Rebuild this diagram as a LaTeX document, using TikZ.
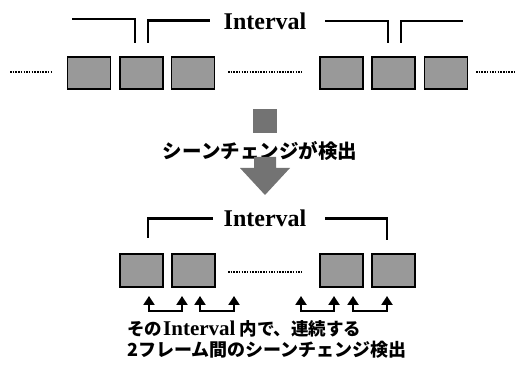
\documentclass[tikz,border=0pt]{standalone}
\usepackage{fontspec}
\setmainfont{Liberation Serif}
\newfontfamily\jp{Noto Sans CJK JP}
\usetikzlibrary{arrows.meta}
\tikzset{
  frame/.style={draw=black, line width=1.5pt, fill=black!40, inner sep=0pt, minimum width=43pt, minimum height=32pt},
  dotsline/.style={line width=2.2pt, dash pattern=on 1.5pt off 1.2pt},
  bracket/.style={line width=2.5pt},
  ivl/.style={font=\bfseries\fontsize{24}{24}\selectfont, inner sep=0pt},
  jptext/.style={font=\jp\bfseries\fontsize{19.5}{19.5}\selectfont, inner sep=0pt},
  jpline/.style={font=\jp\bfseries\fontsize{#1}{#1}\selectfont, inner sep=0pt, anchor=west},
  pairarrow/.style={line width=2.2pt, {Triangle[width=11pt,length=9pt]}-{Triangle[width=11pt,length=9pt]}},
  blockfill/.style={fill=black!55}
}
\begin{document}
\begin{tikzpicture}[x=1pt,y=-1pt]
\useasboundingbox (0,0) rectangle (517,371);
% top row
\node[frame] (t1) at (89,73) {};
\node[frame] (t2) at (141.5,73) {};
\node[frame] (t3) at (193,73) {};
\node[frame] (t4) at (341.5,73) {};
\node[frame] (t5) at (393.5,73) {};
\node[frame] (t6) at (446,73) {};
\coordinate (dl1) at (10,72); \coordinate (dl2) at (51,72);
\coordinate (dm1) at (228,72); \coordinate (dm2) at (303,72);
\coordinate (dr1) at (476,72); \coordinate (dr2) at (515,72);
\draw[dotsline] (dl1) -- (dl2);
\draw[dotsline] (dm1) -- (dm2);
\draw[dotsline] (dr1) -- (dr2);
% top brackets
\node[ivl] (ti) at (265,21) {Interval};
\draw[bracket] (72,19) -- (135,19) -- (135,43);
\draw[bracket] (148,43) -- (148,20.5) -- (210,20.5);
\draw[bracket] (325,21) -- (388,21) -- (388,43);
\draw[bracket] (401,43) -- (401,21) -- (463,21);
% middle
\node[blockfill, inner sep=0pt, minimum width=24pt, minimum height=24pt] (sq) at (265,121) {};
\node[jptext] (sc) at (260,150.5) {シーンチェンジが検出};
\fill[blockfill] (254,157) -- (276,157) -- (276,168) -- (290,168) -- (265,195) -- (240,168) -- (254,168) -- cycle;
% bottom brackets
\node[ivl] (bi) at (265,218.5) {Interval};
\draw[bracket] (148,238) -- (148,218.5) -- (213,218.5);
\draw[bracket] (325,218.5) -- (387,218.5) -- (387,240);
% bottom row
\node[frame, minimum height=33pt] (b1) at (141.5,270.5) {};
\node[frame, minimum height=33pt] (b2) at (193.5,270.5) {};
\node[frame, minimum height=33pt] (b3) at (341.5,270.5) {};
\node[frame, minimum height=33pt] (b4) at (393.5,270.5) {};
\coordinate (db1) at (228,272); \coordinate (db2) at (303,272);
\draw[dotsline] (db1) -- (db2);
% pair arrows
\coordinate (a1) at (149,296); \coordinate (a2) at (182,296);
\coordinate (a3) at (200,296); \coordinate (a4) at (234,296);
\coordinate (a5) at (301,296); \coordinate (a6) at (334,296);
\coordinate (a7) at (353,296); \coordinate (a8) at (387,296);
\draw[pairarrow] (a1) -- ++(0,15) -| (a2);
\draw[pairarrow] (a3) -- ++(0,15) -| (a4);
\draw[pairarrow] (a5) -- ++(0,15) -| (a6);
\draw[pairarrow] (a7) -- ++(0,15) -| (a8);
% bottom text
\node[jpline=17.5] (l1) at (127,329) {その\hspace{1pt}{\rmfamily\bfseries\fontsize{21}{21}\selectfont Interval}\hspace{4pt}内で、連続する};
\node[jpline=18] (l2) at (127,349.5) {2フレーム間のシーンチェンジ検出};
\end{tikzpicture}
\end{document}
